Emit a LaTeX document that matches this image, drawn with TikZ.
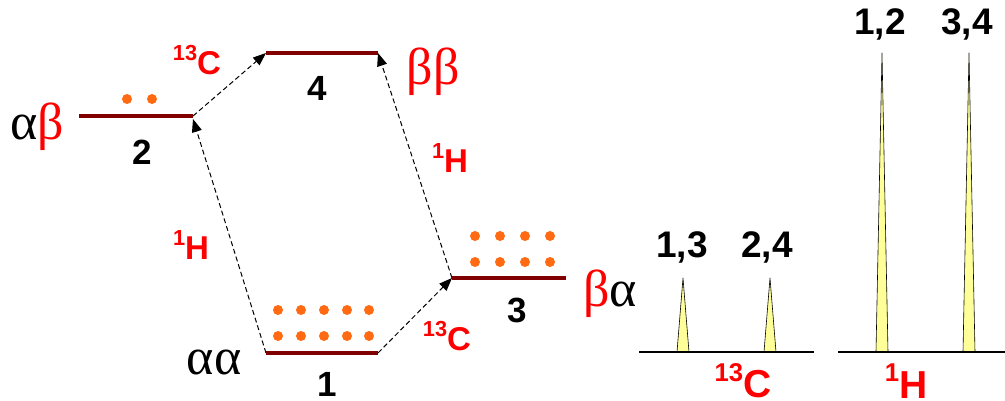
\documentclass[tikz,border=0pt]{standalone}
\usepackage{fontspec}
\setmainfont{Liberation Sans}
\newfontfamily\grk{Liberation Serif}
\usetikzlibrary{arrows.meta}
\definecolor{lev}{HTML}{800000}
\definecolor{dotc}{HTML}{FF6A13}
\definecolor{lab}{HTML}{FF0000}
\definecolor{pk}{HTML}{FFFF99}
\newcommand{\nucl}[3]{{\fontsize{#3}{#3}\selectfont\bfseries\raisebox{0.42em}{\fontsize{0.66\dimexpr#3pt\relax}{1pt}\selectfont #1}#2}}
\tikzset{
  level/.style={draw=lev,line width=4pt},
  trans/.style={draw=black,line width=1pt,dash pattern=on 5pt off 3pt,-{Triangle[length=13pt,width=10pt]}},
  num/.style={inner sep=0pt,font=\fontsize{35}{35}\selectfont\bfseries},
  spnum/.style={inner sep=0pt,font=\fontsize{37}{37}\selectfont\bfseries},
  nuc/.style={inner sep=0pt,text=lab},
  greek/.style={inner sep=0pt,font=\fontsize{52}{52}\selectfont\grk},
  pdot/.style={fill=dotc,draw=none},
  peak/.style={fill=pk,draw=black,line width=0.6pt,line join=round},
  base/.style={draw=black,line width=1.5pt}
}
\begin{document}
\begin{tikzpicture}[x=1pt,y=-1pt]
\useasboundingbox (0,0) rectangle (1005,401);
% level end points
\coordinate (l2a) at (79,116); \coordinate (l2b) at (193,116);
\coordinate (l4a) at (266,53); \coordinate (l4b) at (378,53);
\coordinate (l1a) at (266,353); \coordinate (l1b) at (378,353);
\coordinate (l3a) at (452,278); \coordinate (l3b) at (566,278);
\coordinate (l2t) at (193,119);
% transitions
\draw[trans] (l2b) -- (l4a);
\draw[trans] (l1a) -- (l2t);
\draw[trans] (l1b) -- (l3a);
\draw[trans] (l3a) -- (l4b);
% levels
\draw[level] (l2a) -- (l2b);
\draw[level] (l4a) -- (l4b);
\draw[level] (l1a) -- (l1b);
\draw[level] (l3a) -- (l3b);
% level numbers
\node[num] (n2) at (142,152) {2};
\node[num] (n4) at (317,88) {4};
\node[num] (n1) at (327,384) {1};
\node[num] (n3) at (517,310) {3};
% spin labels
\node[greek] (s2) at (37,127) {α\textcolor{lab}{β}};
\node[greek,text=lab] (s4) at (433,72) {ββ};
\node[greek] (s3) at (610,294) {\textcolor{lab}{β}α};
\node[greek] (s1) at (214,362) {αα};
% transition labels
\node[nuc] (c1) at (197,60) {\nucl{13}{C}{33}};
\node[nuc] (c2) at (447,336) {\nucl{13}{C}{33}};
\node[nuc] (h1) at (191,245) {\nucl{1}{H}{33}};
\node[nuc] (h2) at (450,158) {\nucl{1}{H}{33}};
% populations
\foreach \x in {127,152} \fill[pdot] (\x,99) circle (5pt);
\foreach \x in {278,301,324,347,369} \foreach \y in {310,336} \fill[pdot] (\x,\y) circle (5pt);
\foreach \x in {475,500,525,550} \foreach \y in {236,262} \fill[pdot] (\x,\y) circle (5pt);
% spectra
\draw[peak] (677,352) -- (683,278) -- (689,352) -- cycle;
\draw[peak] (764,352) -- (770,278) -- (776,352) -- cycle;
\draw[peak] (876,352) -- (882,53) -- (888,352) -- cycle;
\draw[peak] (963,352) -- (969,53) -- (975,352) -- cycle;
\coordinate (b1a) at (639,352); \coordinate (b1b) at (814,352);
\coordinate (b2a) at (838,352); \coordinate (b2b) at (1005,352);
\draw[base] (b1a) -- (b1b);
\draw[base] (b2a) -- (b2b);
\node[spnum] (p13) at (682,247) {1,3};
\node[spnum] (p24) at (767,247) {2,4};
\node[spnum] (p12) at (880,24) {1,2};
\node[spnum] (p34) at (967,24) {3,4};
\node[nuc] (sc) at (743,381) {\nucl{13}{C}{39}};
\node[nuc] (sh) at (906,381) {\nucl{1}{H}{39}};
\end{tikzpicture}
\end{document}
